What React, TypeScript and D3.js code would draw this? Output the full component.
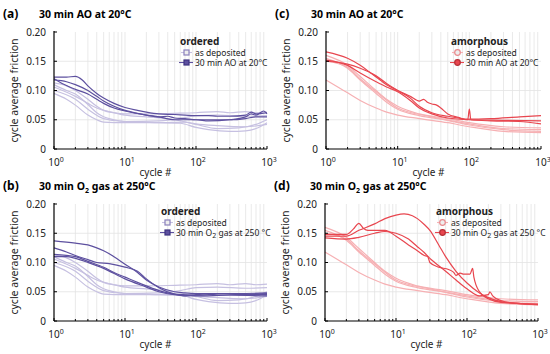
import * as d3 from "d3";

type Pt = [number, number];

const yTicks = [0, 0.05, 0.1, 0.15, 0.2];
const yTickLabels = ["0", "0.05", "0.10", "0.15", "0.20"];
const xDecades = [1, 10, 100, 1000];
const xExponents = ["0", "1", "2", "3"];

// ordered, as deposited (light) - shown in (a) and (b)
const orderedAsDep: Pt[][] = [
  [[1,0.113],[1.5,0.108],[2,0.1],[3,0.085],[4,0.073],[5,0.066],[7,0.062],[10,0.06],[20,0.06],[50,0.061],[100,0.062],[200,0.064],[300,0.062],[500,0.064],[700,0.062],[1000,0.063]],
  [[1,0.11],[1.5,0.1],[2,0.094],[3,0.076],[4,0.062],[5,0.055],[7,0.05],[10,0.047],[30,0.045],[60,0.044],[100,0.037],[150,0.033],[300,0.03],[500,0.031],[700,0.035],[1000,0.045]],
  [[1,0.106],[2,0.09],[3,0.078],[4,0.07],[7,0.062],[10,0.058],[20,0.055],[50,0.05],[100,0.042],[200,0.035],[400,0.036],[700,0.042],[1000,0.05]],
  [[1,0.095],[1.5,0.085],[2,0.075],[3,0.058],[4,0.05],[5,0.046],[10,0.045],[30,0.045],[70,0.046],[100,0.043],[200,0.04],[500,0.038],[1000,0.042]],
  [[1,0.1],[2,0.085],[3,0.068],[5,0.052],[10,0.047],[30,0.048],[60,0.052],[100,0.057],[200,0.058],[500,0.056],[1000,0.057]],
];

// ordered, 30 min AO at 20°C
const orderedAO: Pt[][] = [
  [[1,0.123],[1.5,0.123],[2,0.124],[2.5,0.118],[3,0.108],[4,0.095],[5,0.087],[7,0.078],[10,0.071],[15,0.066],[20,0.063],[30,0.06],[50,0.059],[70,0.058],[100,0.057],[150,0.057],[200,0.056],[300,0.056],[500,0.058],[600,0.063],[700,0.06],[1000,0.062]],
  [[1,0.118],[1.5,0.115],[2,0.11],[3,0.1],[4,0.09],[5,0.082],[7,0.073],[10,0.066],[15,0.061],[20,0.058],[30,0.055],[40,0.056],[50,0.053],[70,0.052],[100,0.05],[200,0.05],[300,0.05],[500,0.052],[700,0.055],[1000,0.055]],
  [[1,0.12],[1.3,0.112],[2,0.102],[3,0.094],[4,0.085],[5,0.078],[7,0.07],[10,0.065],[20,0.058],[30,0.055],[50,0.05],[70,0.05],[100,0.05],[150,0.048],[300,0.05],[500,0.055],[600,0.06],[700,0.058],[900,0.065],[1000,0.06]],
];

// ordered, 30 min O2 gas at 250°C
const orderedO2: Pt[][] = [
  [[1,0.137],[2,0.133],[3,0.13],[4,0.125],[5,0.12],[7,0.11],[10,0.097],[15,0.083],[20,0.07],[30,0.058],[50,0.05],[70,0.048],[100,0.047],[200,0.047],[500,0.046],[1000,0.047]],
  [[1,0.125],[1.5,0.118],[2,0.112],[3,0.105],[4,0.1],[6,0.098],[10,0.092],[15,0.085],[20,0.072],[30,0.057],[50,0.046],[70,0.043],[100,0.045],[200,0.047],[500,0.045],[1000,0.045]],
  [[1,0.114],[2,0.11],[3,0.102],[5,0.092],[7,0.083],[10,0.075],[15,0.066],[20,0.06],[30,0.052],[50,0.046],[100,0.044],[200,0.046],[500,0.047],[1000,0.048]],
  [[1,0.11],[1.5,0.11],[2,0.107],[3,0.1],[5,0.09],[10,0.072],[20,0.058],[30,0.05],[50,0.045],[100,0.043],[300,0.044],[1000,0.043]],
];

// amorphous, as deposited (light) - shown in (c) and (d)
const amorphAsDep: Pt[][] = [
  [[1,0.16],[2,0.143],[3,0.124],[5,0.1],[7,0.085],[10,0.073],[20,0.06],[50,0.052],[100,0.045],[300,0.038],[1000,0.036]],
  [[1,0.155],[2,0.138],[3,0.118],[5,0.095],[7,0.08],[10,0.068],[20,0.057],[50,0.049],[100,0.041],[300,0.033],[1000,0.03]],
  [[1,0.118],[1.5,0.105],[2,0.096],[3,0.083],[5,0.07],[7,0.063],[10,0.058],[20,0.052],[50,0.045],[100,0.038],[300,0.03],[1000,0.028]],
  [[1,0.15],[2,0.14],[3,0.12],[5,0.098],[10,0.07],[30,0.055],[100,0.043],[300,0.035],[1000,0.033]],
];

// amorphous, 30 min AO at 20°C
const amorphAO: Pt[][] = [
  [[1,0.166],[2,0.155],[3,0.143],[4,0.132],[5,0.123],[7,0.11],[10,0.1],[15,0.087],[20,0.073],[30,0.062],[50,0.056],[70,0.053],[100,0.051],[200,0.052],[500,0.055],[1000,0.057]],
  [[1,0.15],[2,0.145],[3,0.138],[5,0.125],[7,0.112],[10,0.1],[15,0.09],[20,0.082],[23,0.085],[26,0.08],[30,0.077],[35,0.075],[40,0.07],[50,0.06],[70,0.054],[95,0.05],[100,0.068],[105,0.05],[200,0.048],[500,0.047],[1000,0.043]],
  [[1,0.152],[2,0.143],[3,0.13],[5,0.115],[7,0.106],[10,0.098],[15,0.083],[20,0.07],[30,0.06],[50,0.053],[100,0.05],[300,0.049],[1000,0.048]],
];

// amorphous, 30 min O2 gas at 250°C
const amorphO2: Pt[][] = [
  [[1,0.145],[2,0.145],[3,0.155],[5,0.166],[7,0.175],[10,0.181],[13,0.183],[17,0.18],[20,0.175],[25,0.165],[30,0.155],[40,0.13],[50,0.11],[70,0.085],[100,0.065],[150,0.048],[200,0.04],[300,0.033],[500,0.03],[1000,0.028]],
  [[1,0.148],[2,0.148],[2.5,0.157],[3,0.167],[3.5,0.158],[4,0.155],[7,0.155],[10,0.145],[15,0.13],[20,0.12],[25,0.112],[28,0.11],[30,0.1],[40,0.092],[55,0.088],[65,0.083],[70,0.078],[80,0.082],[90,0.08],[110,0.08],[120,0.09],[125,0.075],[150,0.05],[200,0.038],[300,0.032],[1000,0.029]],
  [[1,0.142],[2,0.14],[3,0.143],[5,0.15],[7,0.153],[10,0.15],[15,0.14],[20,0.127],[25,0.117],[30,0.107],[35,0.1],[50,0.085],[70,0.07],[100,0.055],[150,0.043],[200,0.045],[210,0.05],[230,0.043],[300,0.035],[500,0.03],[1000,0.028]],
];

const FONT = "'Noto Sans', sans-serif";
const PURPLE = "#5d509f";
const PURPLE_LIGHT = "#c6c0e1";
const RED = "#e8464f";
const RED_LIGHT = "#f6b0b3";

interface PanelProps {
  dx: number;
  dy: number;
  letter: string;
  title: React.ReactNode;
  legendTitle: string;
  legendLabel: React.ReactNode;
  legendX: number;
  legendY: number;
  light: Pt[][];
  dark: Pt[][];
  lightColor: string;
  darkColor: string;
  marker: "square" | "circle";
  left: number;
  right: number;
}

function Marker({ kind, cx, cy, fill, stroke }: { kind: string; cx: number; cy: number; fill: string; stroke: string }) {
  return kind === "square" ? (
    <rect x={cx - 2.5} y={cy - 2.5} width={5} height={5} fill={fill} stroke={stroke} strokeWidth={1.2} />
  ) : (
    <circle cx={cx} cy={cy} r={2.8} fill={fill} stroke={stroke} strokeWidth={1.2} />
  );
}

function Panel(p: PanelProps) {
  const top = 32;
  const bottom = 149;
  const x = d3.scaleLog([1, 1000], [p.left, p.right]);
  const y = d3.scaleLinear([0, 0.2], [bottom, top]);
  const line = d3
    .line<Pt>()
    .x((d) => x(d[0]))
    .y((d) => y(d[1]))
    .curve(d3.curveMonotoneX);
  const minor = x.ticks().filter((t) => t > 1 && t < 1000);
  const allX = x.ticks();

  return (
    <g transform={`translate(${p.dx},${p.dy})`} fontFamily={FONT}>
      <text x={3} y={18} fontSize={12} fontWeight="bold">{p.letter}</text>
      <text x={39} y={18} fontSize={10.5} fontWeight="bold">{p.title}</text>

      {/* grid */}
      <g stroke="#e3e3e3" strokeWidth={0.8}>
        {minor.map((t) => (
          <line key={t} x1={x(t)} x2={x(t)} y1={top} y2={bottom} />
        ))}
        {yTicks.slice(1, 4).map((t) => (
          <line key={t} x1={p.left} x2={p.right} y1={y(t)} y2={y(t)} />
        ))}
      </g>

      {/* data */}
      <g fill="none" strokeWidth={1.2}>
        {p.light.map((s, i) => (
          <path key={i} d={line(s) as string} stroke={p.lightColor} />
        ))}
        {p.dark.map((s, i) => (
          <path key={i} d={line(s) as string} stroke={p.darkColor} />
        ))}
      </g>

      {/* axes */}
      <g stroke="#000">
        <line x1={p.left} x2={p.left} y1={top - 1} y2={bottom} strokeWidth={1.2} />
        <line x1={p.left} x2={p.right} y1={bottom} y2={bottom} strokeWidth={1.2} />
        {yTicks.map((t) => (
          <line key={t} x1={p.left} x2={p.left + 3} y1={y(t)} y2={y(t)} strokeWidth={1} />
        ))}
        {allX.map((t) => (
          <line key={t} x1={x(t)} x2={x(t)} y1={bottom} y2={bottom - (xDecades.includes(t) ? 3 : 2)} strokeWidth={1} />
        ))}
      </g>
      <g fontSize={10} fill="#222">
        {yTicks.map((t, i) => (
          <text key={t} x={p.left - 8} y={y(t) + 3.5} textAnchor="end">{yTickLabels[i]}</text>
        ))}
        {xDecades.map((t, i) => (
          <text key={t} x={x(t) + 2} y={bottom + 17} textAnchor="middle">
            10<tspan fontSize={7} dy={-4}>{xExponents[i]}</tspan>
          </text>
        ))}
        <text x={(p.left + p.right) / 2 - 5} y={bottom + 27} textAnchor="middle">cycle #</text>
        <text transform={`translate(18,${(top + bottom) / 2}) rotate(-90)`} textAnchor="middle" fontSize={10.5}>
          cycle average friction
        </text>
      </g>

      {/* legend */}
      <g fontSize={8.5} fill="#222">
        <text x={p.legendX} y={p.legendY} fontSize={10} fontWeight="bold">{p.legendTitle}</text>
        <line x1={p.legendX + 1} x2={p.legendX + 12} y1={p.legendY + 7.5} y2={p.legendY + 7.5} stroke={p.lightColor} strokeWidth={1.1} />
        <Marker kind={p.marker} cx={p.legendX + 6.5} cy={p.legendY + 7.5} fill="#eee" stroke={p.marker === "square" ? "#8a80bb" : "#e88a8d"} />
        <text x={p.legendX + 15} y={p.legendY + 10.5}>as deposited</text>
        <line x1={p.legendX - 1} x2={p.legendX + 13} y1={p.legendY + 17.5} y2={p.legendY + 17.5} stroke={p.darkColor} strokeWidth={1.1} />
        <Marker kind={p.marker} cx={p.legendX + 6.5} cy={p.legendY + 17.5} fill={p.darkColor} stroke={p.marker === "square" ? "#3d3280" : "#b52d34"} />
        <text x={p.legendX + 15} y={p.legendY + 20.5}>{p.legendLabel}</text>
      </g>
    </g>
  );
}

const O2 = (
  <>
    O<tspan fontSize={7} dy={2.5}>2</tspan>
    <tspan dy={-2.5}> gas at 250</tspan>
  </>
);

export default function App() {
  return (
    <svg width={550} height={354} style={{ position: "absolute", left: 0, top: 0, background: "#fff" }}>
      <Panel
        dx={0} dy={0} letter="(a)" title="30 min AO at 20°C"
        legendTitle="ordered" legendLabel="30 min AO at 20°C" legendX={180} legendY={45}
        light={orderedAsDep} dark={orderedAO} lightColor={PURPLE_LIGHT} darkColor={PURPLE}
        marker="square" left={54} right={267}
      />
      <Panel
        dx={0} dy={172} letter="(b)" title={<>30 min {O2}°C</>}
        legendTitle="ordered" legendLabel={<>30 min {O2} °C</>} legendX={161} legendY={43}
        light={orderedAsDep} dark={orderedO2} lightColor={PURPLE_LIGHT} darkColor={PURPLE}
        marker="square" left={54} right={267}
      />
      <Panel
        dx={272} dy={0} letter="(c)" title="30 min AO at 20°C"
        legendTitle="amorphous" legendLabel="30 min AO at 20°C" legendX={179} legendY={45}
        light={amorphAsDep} dark={amorphAO} lightColor={RED_LIGHT} darkColor={RED}
        marker="circle" left={54} right={269}
      />
      <Panel
        dx={271} dy={172} letter="(d)" title={<>30 min {O2}°C</>}
        legendTitle="amorphous" legendLabel={<>30 min {O2} °C</>} legendX={165} legendY={43}
        light={amorphAsDep} dark={amorphO2} lightColor={RED_LIGHT} darkColor={RED}
        marker="circle" left={54} right={267}
      />
    </svg>
  );
}
